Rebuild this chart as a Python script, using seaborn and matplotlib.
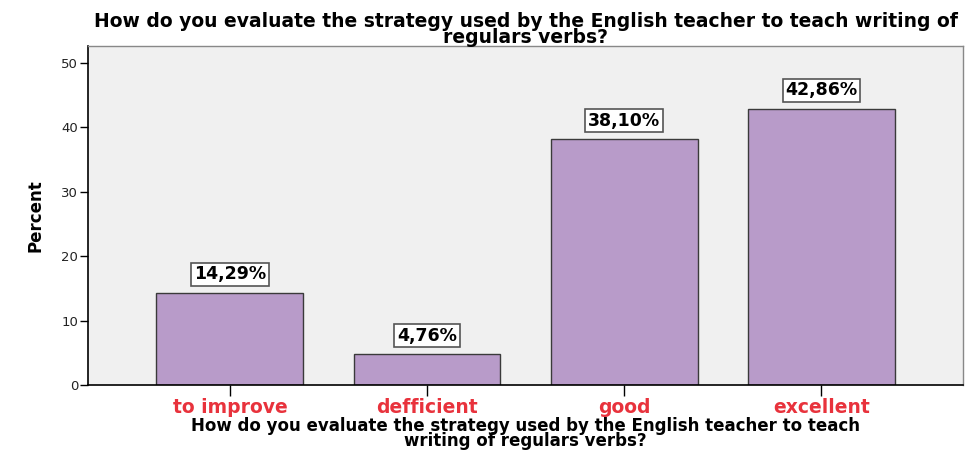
import matplotlib
matplotlib.use("Agg")
import matplotlib.pyplot as plt
import seaborn as sns
import pandas as pd

categories = ["to improve", "defficient", "good", "excellent"]
percent = [14.29, 4.76, 38.10, 42.86]
bar_labels = ["14,29%", "4,76%", "38,10%", "42,86%"]
yticks = [0, 10, 20, 30, 40, 50]
question = "How do you evaluate the strategy used by the English teacher to teach writing of\nregulars verbs?"
xlabel = "How do you evaluate the strategy used by the English teacher to teach\nwriting of regulars verbs?"

sns.set_style("white")
plt.rcParams["font.family"] = ["DejaVu Sans"]
plt.rcParams["text.color"] = "black"
plt.rcParams["axes.labelcolor"] = "black"

df = pd.DataFrame({"answer": categories, "percent": percent})

fig = plt.figure(figsize=(9.67, 4.51), dpi=100)
ax = fig.add_axes([0.091, 0.146, 0.905, 0.752])
ax.set_facecolor("#F0F0F0")

sns.barplot(df, x="answer", y="percent", color="#B89BC9", saturation=1,
            width=0.745, edgecolor="#3a3a3a", linewidth=1.0, ax=ax)

for i, (v, lab) in enumerate(zip(percent, bar_labels)):
    ax.text(i, v + 1.5, lab, ha="center", va="bottom", fontsize=12.5,
            fontweight="bold", color="black",
            bbox=dict(boxstyle="square,pad=0.15", fc="white", ec="#555555", lw=1.2))

ax.set_xlim(-0.72, 3.72)
ax.set_ylim(0, 52.6)
ax.set_yticks(yticks)
ax.set_yticklabels([str(t) for t in yticks], fontsize=9.5, color="#222222")
ax.tick_params(axis="y", length=6, width=1, color="black", left=True, pad=1)
ax.tick_params(axis="x", length=8, width=1, color="black", bottom=True, pad=1)
for t in ax.get_xticklabels():
    t.set_color("#E8323C")
    t.set_fontweight("bold")
    t.set_fontsize(13.5)

for s in ["left", "bottom"]:
    ax.spines[s].set_color("black")
    ax.spines[s].set_linewidth(1.2)
for s in ["top", "right"]:
    ax.spines[s].set_color("#888888")
    ax.spines[s].set_linewidth(1.0)

ax.set_xlabel(xlabel, fontsize=12, fontweight="bold", labelpad=0, linespacing=0.78)
ax.set_ylabel("Percent", fontsize=12, fontweight="bold", labelpad=12)
ax.set_title(question, fontsize=13.5, fontweight="bold", pad=2, linespacing=0.82)

fig.savefig("out.png", dpi=100, facecolor="white")
